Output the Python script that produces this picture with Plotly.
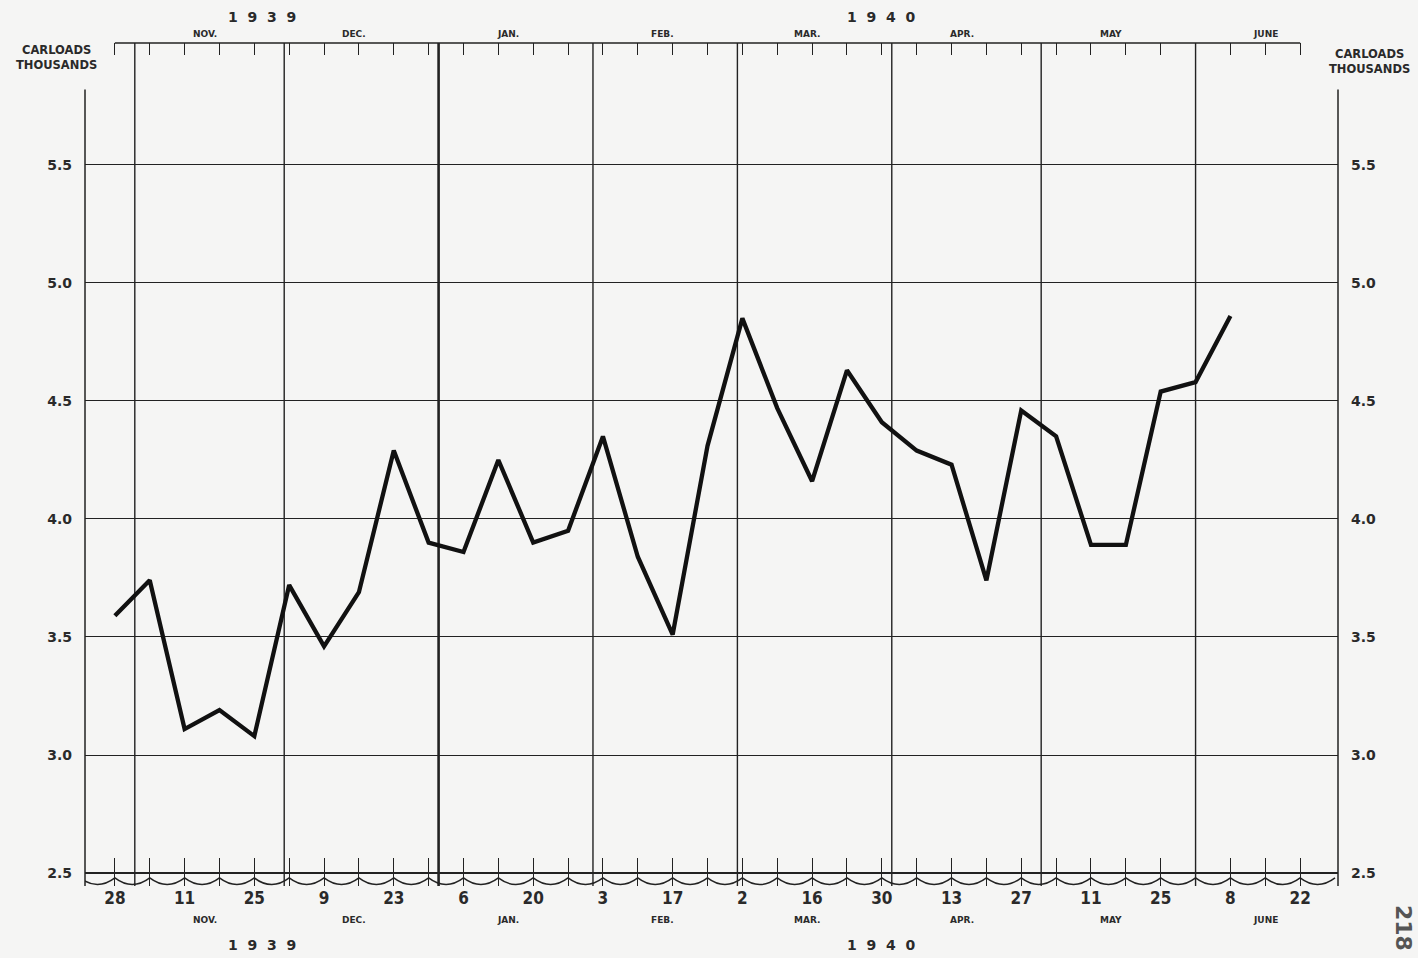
import pandas as pd
import plotly.graph_objects as go

# ---------------- data ----------------
week_ending = [
    "1939-10-28", "1939-11-04", "1939-11-11", "1939-11-18", "1939-11-25",
    "1939-12-02", "1939-12-09", "1939-12-16", "1939-12-23", "1939-12-30",
    "1940-01-06", "1940-01-13", "1940-01-20", "1940-01-27",
    "1940-02-03", "1940-02-10", "1940-02-17", "1940-02-24",
    "1940-03-02", "1940-03-09", "1940-03-16", "1940-03-23", "1940-03-30",
    "1940-04-06", "1940-04-13", "1940-04-20", "1940-04-27",
    "1940-05-04", "1940-05-11", "1940-05-18", "1940-05-25",
    "1940-06-01", "1940-06-08",
]
carloads_thousands = [
    3.59, 3.74, 3.11, 3.19, 3.08,
    3.72, 3.46, 3.69, 4.29, 3.90,
    3.86, 4.25, 3.90, 3.95,
    4.35, 3.84, 3.51, 4.31,
    4.85, 4.47, 4.16, 4.63, 4.41,
    4.29, 4.23, 3.74, 4.46,
    4.35, 3.89, 3.89, 4.54,
    4.58, 4.86,
]

axis_weeks = week_ending + ["1940-06-15", "1940-06-22"]
day_tick_text = [
    "28", "", "11", "", "25", "", "9", "", "23", "",
    "6", "", "20", "", "3", "", "17", "", "2", "",
    "16", "", "30", "", "13", "", "27", "", "11", "",
    "25", "", "8", "", "22",
]

month_starts = ["1939-11-01", "1939-12-01", "1940-01-01", "1940-02-01",
                "1940-03-01", "1940-04-01", "1940-05-01", "1940-06-01"]
month_mid = ["1939-11-15", "1939-12-15", "1940-01-15", "1940-02-15",
             "1940-03-15", "1940-04-15", "1940-05-15", "1940-06-15"]
month_names = ["NOV.", "DEC.", "JAN.", "FEB.", "MAR.", "APR.", "MAY", "JUNE"]
year_labels = ["1939", "1940"]

y_ticks = [2.5, 3.0, 3.5, 4.0, 4.5, 5.0, 5.5]
y_tick_text = ["2.5", "3.0", "3.5", "4.0", "4.5", "5.0", "5.5"]

# ---------------- helpers ----------------
origin = pd.Timestamp(week_ending[0])


def day(s):
    return (pd.Timestamp(s) - origin).days


x_range = [-6.0, 245.6]
y_range = [2.4449, 6.0169]

INK = "#222222"
TEXT = "#2a2a2a"
BG = "#f5f5f4"
BOLD_WIDE = "DejaVu Sans"
NARROW = "Liberation Sans Narrow, DejaVu Sans Condensed, Liberation Sans, sans-serif"

xs = [day(s) for s in week_ending]
tick_x = [day(s) for s in axis_weeks]

fig = go.Figure()
fig.add_trace(go.Scatter(
    x=xs, y=carloads_thousands, mode="lines",
    line=dict(color="#111111", width=4.3),
    hoverinfo="skip", showlegend=False,
))
# secondary axes holder (top ticks / right labels)
fig.add_trace(go.Scatter(x=[], y=[], xaxis="x2", yaxis="y2",
                         showlegend=False, hoverinfo="skip"))

shapes = []
# month division lines
for ms in month_starts:
    xv = day(ms)
    shapes.append(dict(type="line", xref="x", yref="paper", x0=xv, x1=xv, y0=0, y1=1,
                       line=dict(color=INK, width=2.6 if ms.endswith("01-01") else 1.4),
                       layer="between"))
# side frame lines
for px in (0, 1):
    shapes.append(dict(type="line", xref="paper", yref="y", x0=px, x1=px,
                       y0=y_range[0], y1=5.82, line=dict(color=INK, width=1.5),
                       layer="between"))
# top scale line
shapes.append(dict(type="line", xref="x", yref="paper", x0=tick_x[0], x1=tick_x[-1],
                   y0=1, y1=1, line=dict(color=INK, width=1.5), layer="between"))
# heavier base line at 2.5
shapes.append(dict(type="line", xref="paper", yref="y", x0=0, x1=1, y0=2.5, y1=2.5,
                   line=dict(color=INK, width=2.0), layer="between"))
# scale-break wave along the bottom
hi, lo = 2.479, 2.451
wave_pts = [tick_x[0] - 7] + tick_x + [tick_x[-1] + 7]
path = f"M {wave_pts[0]},{hi}"
for a, b in zip(wave_pts[:-1], wave_pts[1:]):
    path += f" Q {(a + b) / 2},{2 * lo - hi} {b},{hi}"
shapes.append(dict(type="path", xref="x", yref="y", path=path,
                   line=dict(color=INK, width=1.5), layer="between"))

annotations = []
mfont = dict(family=BOLD_WIDE, size=9, color=TEXT, weight="bold")
for name, mid in zip(month_names, month_mid):
    annotations.append(dict(x=day(mid), y=1, xref="x", yref="paper", text=name,
                            showarrow=False, font=mfont, yanchor="bottom", yshift=2))
    annotations.append(dict(x=day(mid), y=0, xref="x", yref="paper", text=name,
                            showarrow=False, font=mfont, yanchor="top", yshift=-27))

jan = day(month_starts[2])
year_x = [(x_range[0] + jan) / 2, (jan + x_range[1]) / 2 - 1.5]
yfont = dict(family=BOLD_WIDE, size=14, color=TEXT, weight="bold")
for yl, yx in zip(year_labels, year_x):
    spaced = "\u00a0\u00a0".join(list(yl))
    annotations.append(dict(x=yx, y=1, xref="x", yref="paper", text=spaced,
                            showarrow=False, font=yfont, yanchor="middle", yshift=26))
    annotations.append(dict(x=yx, y=0, xref="x", yref="paper", text=spaced,
                            showarrow=False, font=yfont, yanchor="middle", yshift=-59))

cfont = dict(family=BOLD_WIDE, size=11.5, color=TEXT, weight="bold")
annotations.append(dict(x=0, y=1, xref="paper", yref="paper", text="CARLOADS<br>THOUSANDS",
                        showarrow=False, font=cfont, xanchor="center", yanchor="top",
                        xshift=-29, yshift=2))
annotations.append(dict(x=1, y=1, xref="paper", yref="paper", text="CARLOADS<br>THOUSANDS",
                        showarrow=False, font=cfont, xanchor="center", yanchor="top",
                        xshift=31, yshift=-2))
# page number at the margin
annotations.append(dict(x=1, y=0, xref="paper", yref="paper", text="218", textangle=90,
                        showarrow=False,
                        font=dict(family=BOLD_WIDE, size=22, color="#555", weight="bold"),
                        xanchor="center", yanchor="middle", xshift=66, yshift=-42))

ytickfont = dict(family=BOLD_WIDE, size=14, color=TEXT, weight="bold")

fig.update_layout(
    width=1418, height=958,
    margin=dict(l=85, r=80, t=43, b=72),
    paper_bgcolor=BG, plot_bgcolor=BG,
    showlegend=False,
    xaxis=dict(range=x_range, tickmode="array", tickvals=tick_x, ticktext=day_tick_text,
               ticks="inside", ticklen=28, tickwidth=1.4, tickcolor=INK,
               showgrid=False, zeroline=False, showline=False,
               tickfont=dict(family=NARROW, size=17, color=TEXT, weight="bold")),
    xaxis2=dict(range=x_range, overlaying="x", side="top", anchor="y2",
                tickmode="array", tickvals=tick_x, ticks="inside", ticklen=12,
                tickwidth=1.4, tickcolor=INK, showticklabels=False,
                showgrid=False, zeroline=False, showline=False),
    yaxis=dict(range=y_range, tickmode="array", tickvals=y_ticks, ticktext=y_tick_text,
               ticks="", showgrid=True, gridcolor=INK, gridwidth=1.4,
               zeroline=False, showline=False, ticklabelstandoff=12, tickfont=ytickfont),
    yaxis2=dict(range=y_range, overlaying="y", side="right", anchor="x2",
                tickmode="array", tickvals=y_ticks, ticktext=y_tick_text,
                ticks="", showgrid=False, zeroline=False, showline=False,
                ticklabelstandoff=12, tickfont=ytickfont),
    shapes=shapes,
    annotations=annotations,
)

fig.write_html(
    "out.html",
    config={"displayModeBar": False},
    post_script="document.body.style.margin='0';document.body.style.padding='0';"
                "document.body.style.overflow='hidden';",
)
